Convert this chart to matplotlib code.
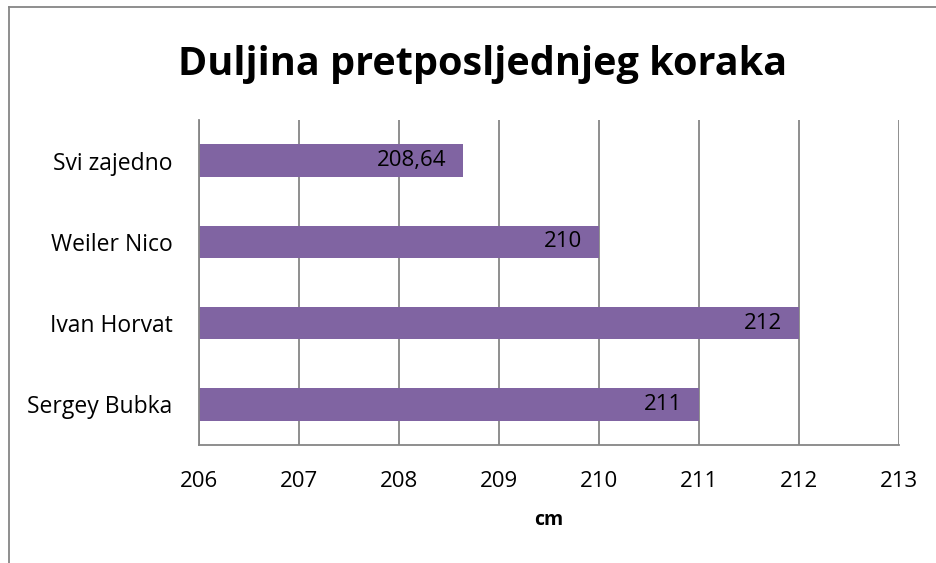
import matplotlib
matplotlib.use("Agg")
import matplotlib.pyplot as plt
from matplotlib.lines import Line2D

categories = ["Sergey Bubka", "Ivan Horvat", "Weiler Nico", "Svi zajedno"]
values = [211, 212, 210, 208.64]
value_labels = ["211", "212", "210", "208,64"]
xticks = [206, 207, 208, 209, 210, 211, 212, 213]
title = "Duljina pretposljednjeg koraka"
xlabel = "cm"

plt.rcParams['font.family'] = ['Open Sans', 'DejaVu Sans']

W, H = 936, 563
fig = plt.figure(figsize=(W / 100, H / 100), dpi=100)
ax = fig.add_axes([199 / W, 1 - 445 / H, (899 - 199) / W, (445 - 120) / H])

grid_c = "#868686"
bar_c = "#8064A2"

ypos = list(range(len(categories)))
ax.barh(ypos, [v - xticks[0] for v in values], left=xticks[0], height=0.4,
        color=bar_c, zorder=3)
ax.set_xlim(xticks[0], xticks[-1])
ax.set_ylim(-0.5, len(categories) - 0.5)
ax.set_xticks(xticks)
ax.set_xticklabels([str(t) for t in xticks], fontsize=16)
ax.set_yticks(ypos)
ax.set_yticklabels(categories, fontsize=16.5)
ax.tick_params(axis='both', length=0)
ax.tick_params(axis='x', pad=19)
ax.tick_params(axis='y', pad=19)
ax.grid(axis='x', color=grid_c, linewidth=1.3, zorder=1)
for s in ['top', 'right']:
    ax.spines[s].set_visible(False)
for s in ['left', 'bottom']:
    ax.spines[s].set_color(grid_c)
    ax.spines[s].set_linewidth(1.3)
    ax.spines[s].set_zorder(4)

for y, v, lab in zip(ypos, values, value_labels):
    ax.annotate(lab, xy=(v, y), xytext=(-17, 0), textcoords='offset pixels',
                ha='right', va='center', fontsize=16, color='black', zorder=5)

ax.set_xlabel(xlabel, fontsize=14, fontweight='bold', labelpad=13)

fig.text(483 / W, 1 - 65 / H, title, fontsize=28.5, fontweight='bold',
         ha='center', va='center')

# outer chart border (top and left visible)
fig.add_artist(Line2D([9 / W, 1], [1 - 7 / H, 1 - 7 / H], color=grid_c,
                      linewidth=1.3, transform=fig.transFigure))
fig.add_artist(Line2D([9 / W, 9 / W], [0, 1 - 7 / H], color=grid_c,
                      linewidth=1.3, transform=fig.transFigure))

fig.savefig("out.png", dpi=100)
